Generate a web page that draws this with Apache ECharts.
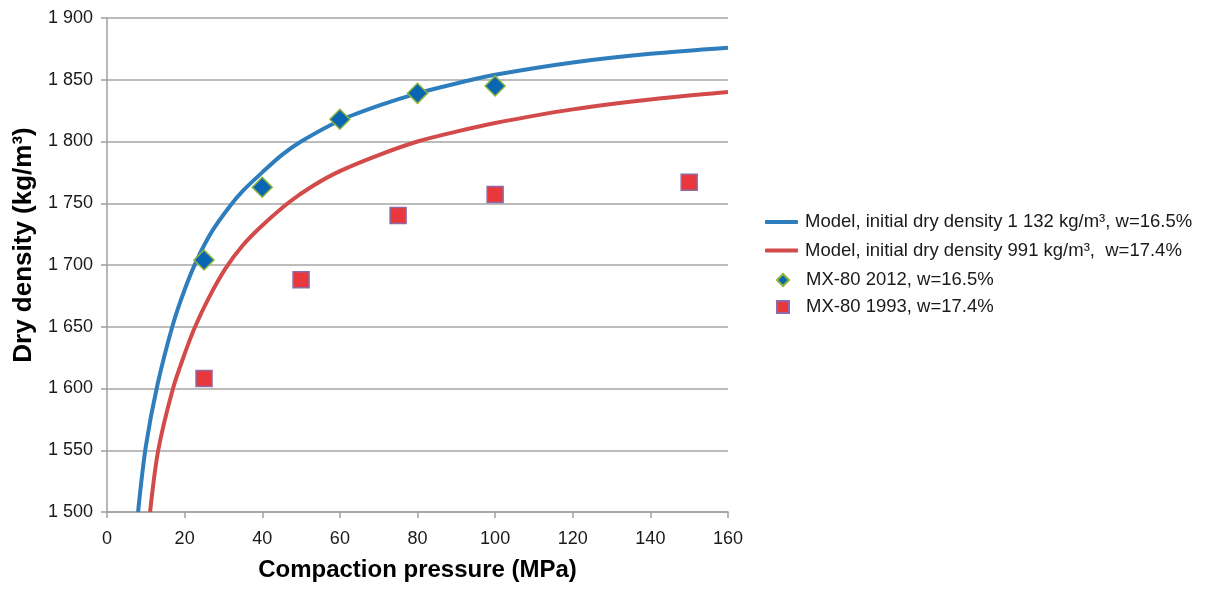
<!DOCTYPE html>
<html>
<head>
<meta charset="utf-8">
<script src="https://cdn.jsdelivr.net/npm/echarts@6/dist/echarts.min.js"></script>
<style>html,body{margin:0;padding:0;background:#fff}#c{width:1205px;height:590px}</style>
</head>
<body>
<div id="c"></div>
<script>
// Data
var seriesNames = [
  'Model, initial dry density 1 132 kg/m³, w=16.5%',
  'Model, initial dry density 991 kg/m³,  w=17.4%',
  'MX-80 2012, w=16.5%',
  'MX-80 1993, w=17.4%'
];
var model1132 = [[8,1500],[10,1553],[13,1603],[17,1652],[20,1680],[23,1703],[27,1727],[31.5,1747],[35,1760],[40,1775],[45,1789],[50,1800],[60,1817],[70,1829],[80,1839],[90,1847],[100,1854],[120,1864],[140,1871],[160,1876]];
var model991 = [[11.1,1500],[13.2,1550],[17,1600],[20,1628],[22.7,1650],[26,1672],[30.5,1697],[35,1716],[40,1732],[47,1751],[53,1764],[60,1776],[70,1789],[80,1800],[90,1808],[100,1815],[120,1826],[140,1834],[160,1840]];
var mx2012 = [[25,1704],[40,1763],[60,1818],[80,1839],[100,1845]];
var mx1993 = [[25,1608],[50,1688],[75,1740],[100,1757],[150,1767]];
var xTicks = {min:0, max:160, interval:20};
var yTicks = {min:1500, max:1900, interval:50};

var chart = echarts.init(document.getElementById('c'));
var font = 'Liberation Sans, Arial, sans-serif';
var blue = '#2e7dbd', red = '#d24a4a';
chart.setOption({
  animation:false,
  textStyle:{fontFamily:font},
  grid:{left:107, right:477, top:18, bottom:78},
  xAxis:{
    type:'value', min:xTicks.min, max:xTicks.max, interval:xTicks.interval,
    name:'Compaction pressure (MPa)', nameLocation:'middle', nameGap:46,
    nameTextStyle:{fontSize:24, fontWeight:'bold', color:'#000', fontFamily:font},
    axisLine:{show:true, lineStyle:{color:'#a0a0a0', width:1.5}},
    axisTick:{show:true, length:6, lineStyle:{color:'#a0a0a0', width:1.5}},
    axisLabel:{fontSize:18, color:'#1a1a1a', margin:18, fontFamily:font},
    splitLine:{show:false}
  },
  yAxis:{
    type:'value', min:yTicks.min, max:yTicks.max, interval:yTicks.interval,
    name:'Dry density (kg/m³)', nameLocation:'middle', nameGap:69, nameRotate:90,
    nameTextStyle:{fontSize:26, fontWeight:'bold', color:'#000', fontFamily:font, padding:[0,0,0,40]},
    axisLine:{show:true, lineStyle:{color:'#a0a0a0', width:1.5}},
    axisTick:{show:true, length:6, lineStyle:{color:'#a0a0a0', width:1.5}},
    axisLabel:{fontSize:18, color:'#1a1a1a', margin:14, fontFamily:font,
      formatter:function(v){var s=String(v);return s.length>3? s.slice(0,s.length-3)+' '+s.slice(-3):s;}},
    splitLine:{show:true, lineStyle:{color:'#a6a6a6', width:1.5}}
  },
  legend:[{
    orient:'vertical', left:760, top:207, itemGap:8.5, itemWidth:33, itemHeight:4,
    textStyle:{fontSize:18.5, lineHeight:20, color:'#1a1a1a', fontFamily:font, padding:[0,0,0,2]},
    data:[
      {name:seriesNames[0], icon:'roundRect'},
      {name:seriesNames[1], icon:'roundRect'}
    ]
  },{
    orient:'vertical', left:771, top:265, itemGap:7, itemWidth:12, itemHeight:12,
    textStyle:{fontSize:18.5, lineHeight:20, color:'#1a1a1a', fontFamily:font, padding:[0,0,0,12]},
    data:[
      {name:seriesNames[2], icon:'diamond'},
      {name:seriesNames[3], icon:'rect'}
    ]
  }],
  series:[
    {name:seriesNames[0], type:'line', data:model1132, smooth:0.3, symbol:'none',
      lineStyle:{color:blue, width:4}, itemStyle:{color:blue}, z:2},
    {name:seriesNames[1], type:'line', data:model991, smooth:0.3, symbol:'none',
      lineStyle:{color:red, width:4}, itemStyle:{color:red}, z:2},
    {name:seriesNames[2], type:'scatter', data:mx2012, symbol:'diamond', symbolSize:20,
      itemStyle:{color:'#0a66b2', borderColor:'#8db43c', borderWidth:1.5, opacity:1}, z:3},
    {name:seriesNames[3], type:'scatter', data:mx1993, symbol:'rect', symbolSize:16,
      itemStyle:{color:'#e8383b', borderColor:'#8e6aa8', borderWidth:1.5, opacity:1}, z:3}
  ]
});
</script>
</body>
</html>
